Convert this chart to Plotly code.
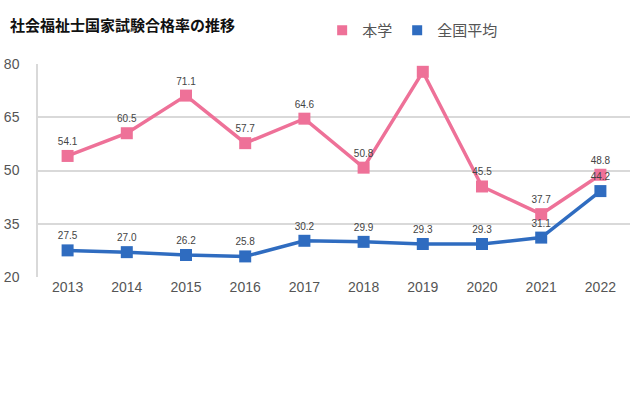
import plotly.graph_objects as go

years = ["2013", "2014", "2015", "2016", "2017", "2018", "2019", "2020", "2021", "2022"]
school = [54.1, 60.5, 71.1, 57.7, 64.6, 50.8, 77.8, 45.5, 37.7, 48.8]
national = [27.5, 27.0, 26.2, 25.8, 30.2, 29.9, 29.3, 29.3, 31.1, 44.2]
y_ticks = [20, 35, 50, 65, 80]

PINK = "#EE7198"
BLUE = "#2F6CC0"
FONT = "Noto Sans CJK JP"

fig = go.Figure()
for name, vals, col in [("本学", school, PINK), ("全国平均", national, BLUE)]:
    fig.add_trace(go.Scatter(
        x=years, y=vals, name=name, mode="lines+markers+text", showlegend=False,
        line=dict(color=col, width=3.5),
        marker=dict(symbol="square", size=12, color=col),
        text=[f"{v:.1f}" for v in vals], textposition="top center",
        textfont=dict(size=10, color="#444", family="Liberation Sans"),
    ))
    # legend-only entry (marker only, like the reference legend)
    fig.add_trace(go.Scatter(
        x=[None], y=[None], name=name, mode="markers",
        marker=dict(symbol="square", size=10, color=col),
    ))

fig.update_layout(
    width=640, height=397,
    margin=dict(l=38, r=10, t=64, b=120, autoexpand=False),
    plot_bgcolor="white", paper_bgcolor="white",
    font=dict(family=FONT, color="#555"),
    title=dict(text="<b>社会福祉士国家試験合格率の推移</b>", x=0.0156, xanchor="left",
               y=0.935, yanchor="middle", font=dict(size=15, color="#111", family=FONT)),
    legend=dict(orientation="h", x=0.48, xanchor="left", y=0.965, yanchor="top",
                yref="container", font=dict(size=15, color="#555", family=FONT),
                itemwidth=30, bgcolor="rgba(0,0,0,0)"),
    showlegend=True,
)
fig.update_xaxes(type="category", range=[-0.5, len(years) - 0.5], showgrid=False,
                 showline=False, ticks="",
                 tickfont=dict(size=14, color="#555", family="Liberation Sans"))
fig.update_yaxes(range=[20, 80], tickvals=y_ticks, showgrid=True, gridcolor="#D9D9D9",
                 gridwidth=1.5, zeroline=False, showline=True, linecolor="#D9D9D9",
                 linewidth=1.5, ticks="", ticklabelstandoff=14,
                 tickfont=dict(size=14, color="#555", family="Liberation Sans"))

# remove the browser's default 8px body margin so the figure fills the window
fig.write_html("out.html", config={"displayModeBar": False},
               post_script="document.body.style.margin='0';")
